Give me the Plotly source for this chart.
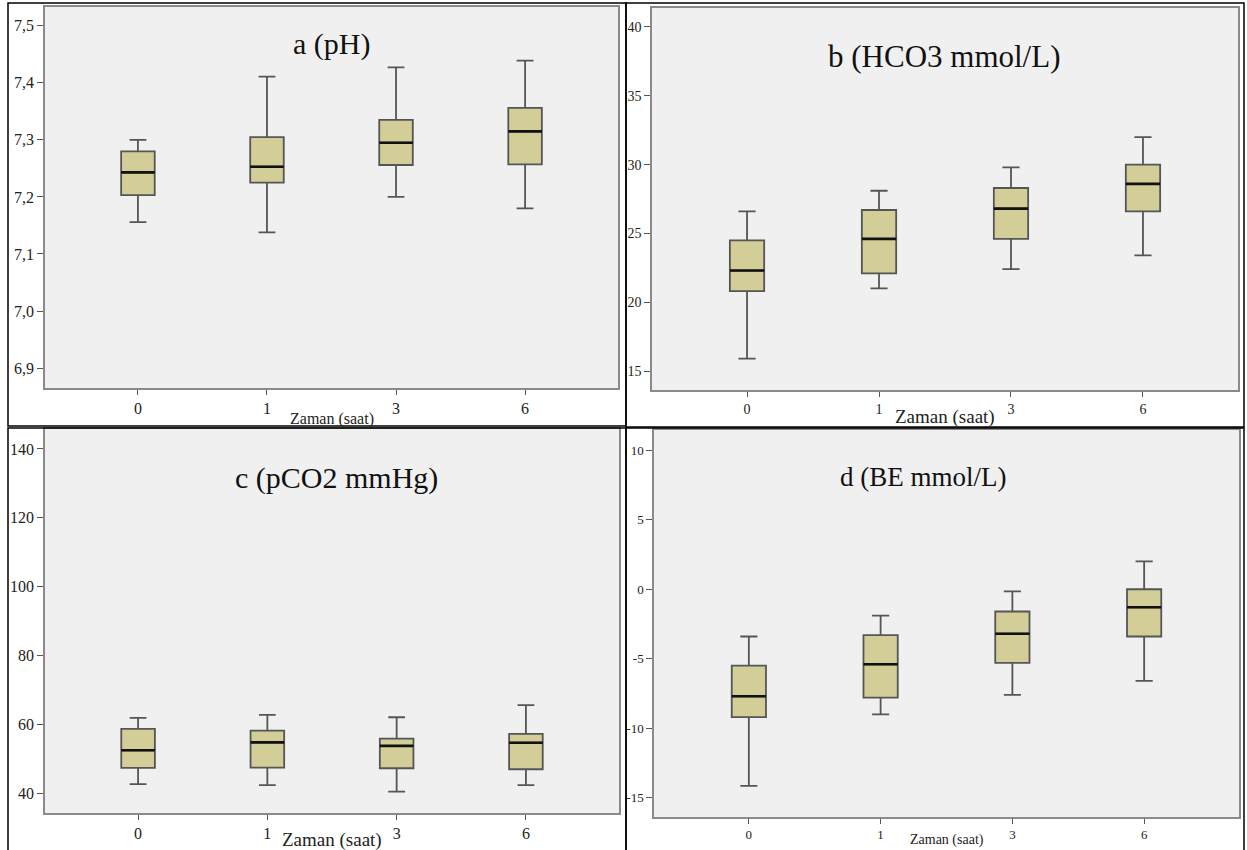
import plotly.graph_objects as go

# ---------------- data ----------------
times = ["0", "1", "3", "6"]

ph_low = [7.156, 7.138, 7.200, 7.180]
ph_q1 = [7.203, 7.225, 7.256, 7.257]
ph_med = [7.243, 7.253, 7.295, 7.315]
ph_q3 = [7.280, 7.305, 7.335, 7.356]
ph_high = [7.300, 7.411, 7.427, 7.439]

hco3_low = [15.9, 21.0, 22.4, 23.4]
hco3_q1 = [20.8, 22.1, 24.6, 26.6]
hco3_med = [22.3, 24.6, 26.8, 28.6]
hco3_q3 = [24.5, 26.7, 28.3, 30.0]
hco3_high = [26.6, 28.1, 29.8, 32.0]

pco2_low = [42.7, 42.4, 40.5, 42.4]
pco2_q1 = [47.4, 47.5, 47.3, 47.0]
pco2_med = [52.5, 54.8, 53.8, 54.7]
pco2_q3 = [58.7, 58.2, 55.9, 57.3]
pco2_high = [61.9, 62.8, 62.1, 65.6]

be_low = [-14.15, -9.0, -7.6, -6.6]
be_q1 = [-9.2, -7.8, -5.3, -3.4]
be_med = [-7.7, -5.4, -3.2, -1.3]
be_q3 = [-5.5, -3.3, -1.6, 0.0]
be_high = [-3.4, -1.9, -0.15, 2.0]

ph_tickvals = [6.9, 7.0, 7.1, 7.2, 7.3, 7.4, 7.5]
ph_ticktext = ["6,9", "7,0", "7,1", "7,2", "7,3", "7,4", "7,5"]
hco3_tickvals = [15, 20, 25, 30, 35, 40]
hco3_ticktext = ["15", "20", "25", "30", "35", "40"]
pco2_tickvals = [40, 60, 80, 100, 120, 140]
pco2_ticktext = ["40", "60", "80", "100", "120", "140"]
be_tickvals = [-15, -10, -5, 0, 5, 10]
be_ticktext = ["-15", "-10", "-5", "0", "5", "10"]

panel_titles = ["a (pH)", "b (HCO3 mmol/L)", "c (pCO2 mmHg)", "d (BE mmol/L)"]
x_title = "Zaman (saat)"

# ---------------- style ----------------
W, H = 1247, 850
FONT = "Liberation Serif"
BOX_FILL = "rgb(211,206,151)"
BOX_LINE = "#555555"
PLOT_BG = "#f0f0f0"
AXIS_LINE = "#8a8a8a"

def px_x(p):
    return p / W

def px_y(p):
    return 1 - p / H

panels = [
    dict(low=ph_low, q1=ph_q1, med=ph_med, q3=ph_q3, high=ph_high,
         tv=ph_tickvals, tt=ph_ticktext, yr=[6.865, 7.533],
         dom_x=[45, 618], dom_y=[7, 388], tick_font=16, xtick_font=16,
         xt_font=16, xt_y=419, title_y=44, title_x=331, title_font=30),
    dict(low=hco3_low, q1=hco3_q1, med=hco3_med, q3=hco3_q3, high=hco3_high,
         tv=hco3_tickvals, tt=hco3_ticktext, yr=[13.62, 41.38],
         dom_x=[652, 1238], dom_y=[8, 390], tick_font=14, xtick_font=14,
         xt_font=19, xt_y=417, title_y=56, title_x=944, title_font=31),
    dict(low=pco2_low, q1=pco2_q1, med=pco2_med, q3=pco2_q3, high=pco2_high,
         tv=pco2_tickvals, tt=pco2_ticktext, yr=[34.3, 145.8],
         dom_x=[45, 619], dom_y=[429, 813], tick_font=16, xtick_font=16,
         xt_font=19, xt_y=840, title_y=478, title_x=336, title_font=30),
    dict(low=be_low, q1=be_q1, med=be_med, q3=be_q3, high=be_high,
         tv=be_tickvals, tt=be_ticktext, yr=[-16.39, 11.46],
         dom_x=[654, 1239], dom_y=[430, 817], tick_font=13, xtick_font=13,
         xt_font=14, xt_y=840, title_y=477, title_x=923, title_font=27),
]

fig = go.Figure()
layout = dict(
    width=W, height=H, autosize=False,
    margin=dict(l=0, r=0, t=0, b=0),
    paper_bgcolor="white", plot_bgcolor=PLOT_BG,
    template="none", showlegend=False,
    boxmode="overlay",
    font=dict(family=FONT, color="#222"),
)
annotations = []
shapes = []

for i, p in enumerate(panels, start=1):
    sx = "" if i == 1 else str(i)
    xa, ya = "x" + sx, "y" + sx
    # main box
    fig.add_trace(go.Box(
        x=times, q1=p["q1"], median=p["med"], q3=p["q3"],
        lowerfence=p["low"], upperfence=p["high"],
        xaxis=xa, yaxis=ya, width=0.26, whiskerwidth=0.5,
        fillcolor=BOX_FILL, line=dict(color=BOX_LINE, width=1.8),
        boxpoints=False, hoverinfo="skip",
    ))
    # thick black median line
    fig.add_trace(go.Box(
        x=times, q1=p["med"], median=p["med"], q3=p["med"],
        lowerfence=p["med"], upperfence=p["med"],
        xaxis=xa, yaxis=ya, width=0.26, whiskerwidth=0.5,
        fillcolor="rgba(0,0,0,0)", line=dict(color="#111", width=2.6),
        boxpoints=False, hoverinfo="skip",
    ))
    layout["xaxis" + sx] = dict(
        type="category", categoryorder="array", categoryarray=times,
        domain=[px_x(p["dom_x"][0]), px_x(p["dom_x"][1])],
        range=[-0.72, 3.72], anchor=ya,
        showline=True, linecolor=AXIS_LINE, linewidth=1.5, mirror=True,
        showgrid=False, zeroline=False,
        ticks="outside", ticklen=5, tickcolor="#555", tickwidth=1.3,
        tickfont=dict(family=FONT, size=p["xtick_font"], color="#222"),
        fixedrange=True,
    )
    layout["yaxis" + sx] = dict(
        domain=[px_y(p["dom_y"][1]), px_y(p["dom_y"][0])],
        range=p["yr"], anchor=xa,
        tickvals=p["tv"], ticktext=p["tt"],
        showline=True, linecolor=AXIS_LINE, linewidth=1.5, mirror=True,
        showgrid=False, zeroline=False,
        ticks="outside", ticklen=6, tickcolor="#555", tickwidth=1.3,
        tickfont=dict(family=FONT, size=p["tick_font"], color="#222"),
        fixedrange=True,
    )
    annotations.append(dict(
        text=panel_titles[i - 1], xref="paper", yref="paper",
        x=px_x(p["title_x"]), y=px_y(p["title_y"]),
        xanchor="center", yanchor="middle", showarrow=False,
        font=dict(family=FONT, size=p["title_font"], color="#111"),
    ))
    annotations.append(dict(
        text=x_title, xref="paper", yref="paper",
        x=px_x((p["dom_x"][0] + p["dom_x"][1]) / 2), y=px_y(p["xt_y"]),
        xanchor="center", yanchor="middle", showarrow=False,
        font=dict(family=FONT, size=p["xt_font"], color="#222"),
    ))

# outer panel frames
frames = [(8, 3, 626, 426), (626, 3, 1244, 427), (8, 428, 626, 860), (626, 428, 1244, 860)]
for (x0, y0, x1, y1) in frames:
    shapes.append(dict(type="rect", xref="paper", yref="paper",
                       x0=px_x(x0), x1=px_x(x1), y0=px_y(y1), y1=px_y(y0),
                       line=dict(color="black", width=1.5), fillcolor="rgba(0,0,0,0)",
                       layer="above"))

layout["annotations"] = annotations
layout["shapes"] = shapes
fig.update_layout(**layout)
fig.write_html("out.html")
